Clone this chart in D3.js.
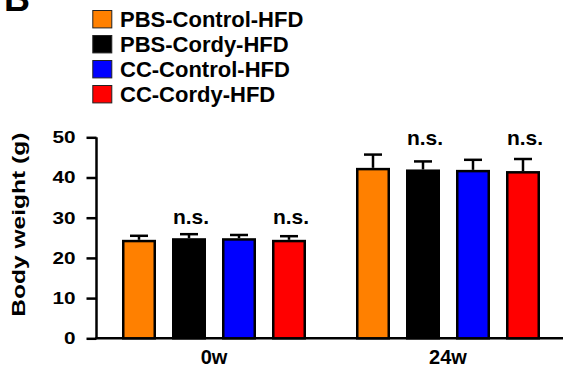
<!DOCTYPE html>
<html>
<head>
<meta charset="utf-8">
<script src="https://cdn.jsdelivr.net/npm/d3@7"></script>
<style>
  html, body { margin: 0; padding: 0; background: #fff; }
  svg { display: block; font-family: "Liberation Sans", Arial, sans-serif; font-weight: bold; }
</style>
</head>
<body>
<svg id="chart" width="563" height="367"></svg>
<script>
// ---- data ----
const groups = ["0w", "24w"];
const series = ["PBS-Control-HFD", "PBS-Cordy-HFD", "CC-Control-HFD", "CC-Cordy-HFD"];
const colors = ["#FF8000", "#000000", "#0000FF", "#FF0000"];
const means0w  = [24.5, 24.9, 24.9, 24.5];
const errors0w = [1.0, 1.0, 0.8, 0.9];
const means24w  = [42.4, 42.0, 41.9, 41.6];
const errors24w = [3.3, 2.0, 2.5, 3.0];
const yTicks = [0, 10, 20, 30, 40, 50];
const nsLabels = [null, "n.s.", null, "n.s."]; // per series, shown in each group

const means = [means0w, means24w];
const errors = [errors0w, errors24w];

const svg = d3.select("#chart");

const y = d3.scaleLinear().domain([0, 50]).range([338.3, 137.3]);
const x0 = d3.scaleBand().domain(groups).range([122, 540]).paddingInner(50 / 234);
const x1 = d3.scaleBand().domain(series).range([0, x0.bandwidth()]).paddingInner(0.32);

// panel letter
svg.append("text").attr("x", 4).attr("y", 11).attr("font-size", 36).text("B");

// legend
const leg = svg.append("g");
series.forEach((s, i) => {
  const by = 26.7 + i * 25;
  leg.append("rect").attr("x", 92.8).attr("y", by - 16.2).attr("width", 19).attr("height", 17.4)
    .attr("fill", colors[i]).attr("stroke", "#222").attr("stroke-width", 1);
  leg.append("text").attr("x", 120).attr("y", by).attr("font-size", 22).text(s);
});

// y axis
const yAxis = d3.axisLeft(y).tickValues(yTicks).tickSize(10).tickPadding(11).tickFormat(d3.format("d"));
const gy = svg.append("g").attr("transform", "translate(96.5,0)").call(yAxis);
gy.select(".domain").attr("stroke", "#000").attr("stroke-width", 2.5).attr("d", `M0,${y(50)}V${y(0)}`);
gy.selectAll(".tick line").attr("stroke", "#000").attr("stroke-width", 2.5);
gy.selectAll(".tick text").attr("fill", "#000").attr("font-size", 17)
  .attr("font-family", "'Liberation Sans', Arial, sans-serif").attr("font-weight", "bold")
  .attr("text-anchor", "end")
  .each(function () {
    const t = d3.select(this);
    const xx = +t.attr("x");
    t.attr("transform", `translate(${xx},0) scale(1.22,1) translate(${-xx},0)`);
  });

// x axis
const xAxis = d3.axisBottom(x0).tickSize(0).tickPadding(12);
const gx = svg.append("g").attr("transform", `translate(0,${y(0)})`).call(xAxis);
gx.select(".domain").attr("stroke", "#000").attr("stroke-width", 2.5).attr("d", "M95.3,0H563");
gx.selectAll(".tick text").attr("fill", "#000").attr("font-size", 20)
  .attr("font-family", "'Liberation Sans', Arial, sans-serif").attr("font-weight", "bold")
  .attr("dy", "0.71em").attr("y", 12);

// y title
svg.append("text")
  .attr("transform", `translate(25,224.7) rotate(-90)`)
  .attr("text-anchor", "middle").attr("font-size", 19)
  .attr("textLength", 184).attr("lengthAdjust", "spacingAndGlyphs")
  .text("Body weight (g)");

// bars
const sw = 2.5;
groups.forEach((g, gi) => {
  const gg = svg.append("g").attr("transform", `translate(${x0(g)},0)`);
  series.forEach((s, si) => {
    const v = means[gi][si], e = errors[gi][si];
    const bx = x1(s), bw = x1.bandwidth(), cx = bx + bw / 2;
    // error bar (upper only)
    gg.append("line").attr("x1", cx).attr("x2", cx).attr("y1", y(v)).attr("y2", y(v + e))
      .attr("stroke", "#000").attr("stroke-width", sw);
    gg.append("line").attr("x1", cx - 9).attr("x2", cx + 9).attr("y1", y(v + e)).attr("y2", y(v + e))
      .attr("stroke", "#000").attr("stroke-width", sw);
    gg.append("rect")
      .attr("x", bx + sw / 2).attr("y", y(v) + sw / 2)
      .attr("width", bw - sw).attr("height", y(0) - y(v) - sw / 2)
      .attr("fill", colors[si]).attr("stroke", "#000").attr("stroke-width", sw);
  });
  const gmax = d3.max(means[gi].map((m, i) => m + errors[gi][i]));
  series.forEach((s, si) => {
    if (!nsLabels[si]) return;
    gg.append("text").attr("x", x1(s) + x1.bandwidth() / 2 + 2).attr("y", y(gmax) - 10)
      .attr("text-anchor", "middle").attr("font-size", 21).text(nsLabels[si]);
  });
});
</script>
</body>
</html>
